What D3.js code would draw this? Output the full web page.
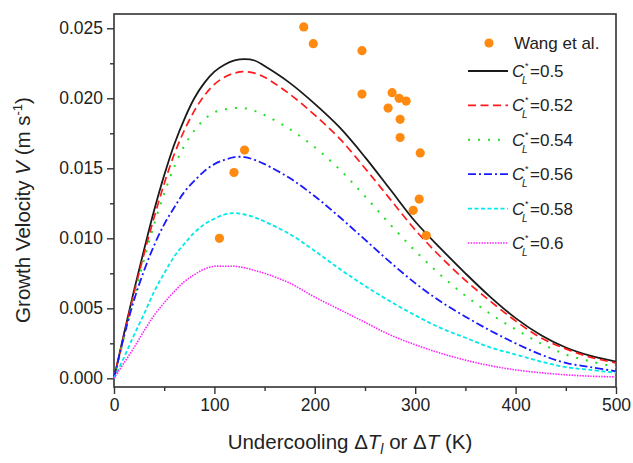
<!DOCTYPE html>
<html>
<head>
<meta charset="utf-8">
<script src="https://cdn.jsdelivr.net/npm/d3@7"></script>
<style>
  body { margin: 0; background: #fff; }
  svg { font-family: "Liberation Sans", Arial, sans-serif; }
</style>
</head>
<body>
<svg id="chart" width="633" height="463"></svg>
<script>
// undercooling values (K) shared by every model curve
var undercooling = [0, 10, 20, 30, 40, 50, 60, 70, 80, 90, 100, 110, 120, 130, 140, 150,
  175, 200, 225, 250, 275, 300, 325, 350, 375, 400, 425, 450, 475, 500];

// growth velocity (m/s) for each C*L
var v050 = [0, .0032, .0063, .0092, .0120, .0145, .0167, .0185, .0200, .0211, .0219, .0224, .0227, .0228, .0227, .0223,
  .0211, .0196, .0179, .0158, .0135, .0112, .0093, .0075, .0058, .0043, .0031, .0022, .0016, .0012];
var v052 = [0, .0031, .0061, .0089, .0115, .0139, .0160, .0177, .0191, .0202, .0210, .0215, .0218, .0219, .0218, .0215,
  .0203, .0188, .0171, .0150, .0128, .0106, .0087, .0070, .0055, .0041, .0029, .0021, .0015, .0011];
var v054 = [0, .0029, .0058, .0085, .0110, .0132, .0151, .0166, .0177, .0185, .0190, .0192, .0193, .0193, .0191, .0188,
  .0178, .0165, .0149, .0130, .0110, .0091, .0074, .0059, .0046, .0035, .0025, .0017, .0012, .0008];
var v056 = [0, .0030, .0056, .0077, .0095, .0110, .0122, .0133, .0141, .0148, .0153, .0156, .0158, .0158, .0156, .0153,
  .0143, .0130, .0115, .0099, .0083, .0068, .0055, .0044, .0034, .0025, .0017, .0011, .0008, .0005];
var v058 = [0, .0015, .0031, .0046, .0062, .0075, .0087, .0096, .0104, .0110, .0114, .0117, .0118, .0117, .0115, .0112,
  .0103, .0091, .0078, .0066, .0055, .0045, .0036, .0029, .0022, .0017, .0012, .0008, .0006, .0004];
var v060 = [0, .0011, .0022, .0034, .0045, .0054, .0062, .0069, .0074, .0078, .0080, .0080, .0080, .0079, .0077, .0075,
  .0068, .0058, .0049, .0040, .0031, .0024, .0018, .0013, .0009, .0006, .0004, .00025, .00015, .0001];

// experimental points (Wang et al.)
var wangT = [105, 119.5, 130, 189, 198.5, 247, 247, 277, 284, 291, 273, 285, 285, 305, 304, 298, 311];
var wangV = [.0100, .0147, .0163, .0251, .0239, .0234, .0203, .0204, .0200, .0198, .0193, .0185, .0172, .0161, .0128, .0120, .0102];

var labels = ["0.5", "0.52", "0.54", "0.56", "0.58", "0.6"];
var series = [v050, v052, v054, v056, v058, v060];
var colors = ["#1a1a1a", "#ff1a1a", "#22e022", "#1a1aff", "#00eaea", "#ff22ff"];
var dashes = ["none", "8,4.5", "2,8", "8,3,2,3", "4,2.5", "1.5,1.2"];
var widths = [1.8, 1.7, 2, 1.8, 1.8, 1.6];

var xTicks = [0, 100, 200, 300, 400, 500];
var yTicks = [0, 0.005, 0.01, 0.015, 0.02, 0.025];

var svg = d3.select("#chart");
var margin = {left: 114, right: 616, top: 14, bottom: 387};

var x = d3.scaleLinear().domain([0, 500]).range([margin.left, margin.right]);
var y = d3.scaleLinear().domain([-0.00062, 0.02602]).range([margin.bottom, margin.top]);

// cadre
svg.append("rect")
  .attr("x", margin.left).attr("y", margin.top)
  .attr("width", margin.right - margin.left).attr("height", margin.bottom - margin.top)
  .attr("fill", "none").attr("stroke", "#333").attr("stroke-width", 1.6);

// axe x : graduations majeures puis mineures
svg.append("g").attr("transform", "translate(0," + margin.bottom + ")")
  .call(d3.axisBottom(x).tickValues(xTicks).tickSize(7).tickPadding(5).tickFormat(d3.format("d")));
svg.append("g").attr("transform", "translate(0," + margin.bottom + ")")
  .call(d3.axisBottom(x).tickValues(d3.range(50, 500, 100)).tickSize(4).tickFormat(""));

// axe y
svg.append("g").attr("transform", "translate(" + margin.left + ",0)")
  .call(d3.axisLeft(y).tickValues(yTicks).tickSize(7).tickPadding(4).tickFormat(d3.format(".3f")));
svg.append("g").attr("transform", "translate(" + margin.left + ",0)")
  .call(d3.axisLeft(y).tickValues(d3.range(0.0025, 0.026, 0.005)).tickSize(4).tickFormat(""));

svg.selectAll(".domain").remove();
svg.selectAll(".tick line").attr("stroke", "#333").attr("stroke-width", 1.4);
svg.selectAll(".tick text").attr("font-size", 17.5).attr("fill", "#222")
  .attr("font-family", "Liberation Sans, Arial, sans-serif");

// courbes du modèle
var line = d3.line()
  .x(function(d) { return x(d[0]); })
  .y(function(d) { return y(d[1]); })
  .curve(d3.curveCatmullRom.alpha(0.5));

series.forEach(function(vals, i) {
  svg.append("path")
    .datum(undercooling.map(function(t, j) { return [t, vals[j]]; }))
    .attr("d", line)
    .attr("fill", "none")
    .attr("stroke", colors[i])
    .attr("stroke-width", widths[i])
    .attr("stroke-dasharray", dashes[i]);
});

// points expérimentaux
svg.selectAll("circle.wang")
  .data(wangT.map(function(t, i) { return [t, wangV[i]]; }))
  .enter().append("circle")
  .attr("class", "wang")
  .attr("cx", function(d) { return x(d[0]); })
  .attr("cy", function(d) { return y(d[1]); })
  .attr("r", 4.6)
  .attr("fill", "#ff8a12");

// légende
var lg = svg.append("g").attr("font-size", 17).attr("fill", "#222");
lg.append("circle").attr("cx", 489).attr("cy", 43).attr("r", 4.6).attr("fill", "#ff8a12");
lg.append("text").attr("x", 514).attr("y", 49).text("Wang et al.");

labels.forEach(function(lab, i) {
  var cy = 71 + i * 34.4;
  lg.append("line")
    .attr("x1", 468).attr("x2", 508).attr("y1", cy).attr("y2", cy)
    .attr("stroke", colors[i]).attr("stroke-width", widths[i])
    .attr("stroke-dasharray", dashes[i]);
  lg.append("text").attr("x", 512).attr("y", cy + 6).attr("font-style", "italic").text("C");
  lg.append("text").attr("x", 525).attr("y", cy - 2).attr("font-size", 9).text("*");
  lg.append("text").attr("x", 522).attr("y", cy + 13).attr("font-size", 10).attr("font-style", "italic").text("L");
  lg.append("text").attr("x", 530).attr("y", cy + 6).text("=" + lab);
});

// titres des axes
var xt = svg.append("text")
  .attr("x", 350).attr("y", 449)
  .attr("text-anchor", "middle")
  .attr("font-size", 20.5).attr("fill", "#222");
xt.append("tspan").text("Undercooling \u0394");
xt.append("tspan").attr("font-style", "italic").text("T");
xt.append("tspan").attr("font-style", "italic").attr("font-size", 14).attr("dy", 5).text("l");
xt.append("tspan").attr("dy", -5).text(" or \u0394");
xt.append("tspan").attr("font-style", "italic").text("T");
xt.append("tspan").text(" (K)");

var yt = svg.append("text")
  .attr("transform", "translate(30,210) rotate(-90)")
  .attr("text-anchor", "middle")
  .attr("font-size", 20.5).attr("fill", "#222");
yt.append("tspan").text("Growth Velocity ");
yt.append("tspan").attr("font-style", "italic").text("V");
yt.append("tspan").text(" (m s");
yt.append("tspan").attr("font-size", 13).attr("dy", -8).text("-1");
yt.append("tspan").attr("dy", 8).text(")");
</script>
</body>
</html>
